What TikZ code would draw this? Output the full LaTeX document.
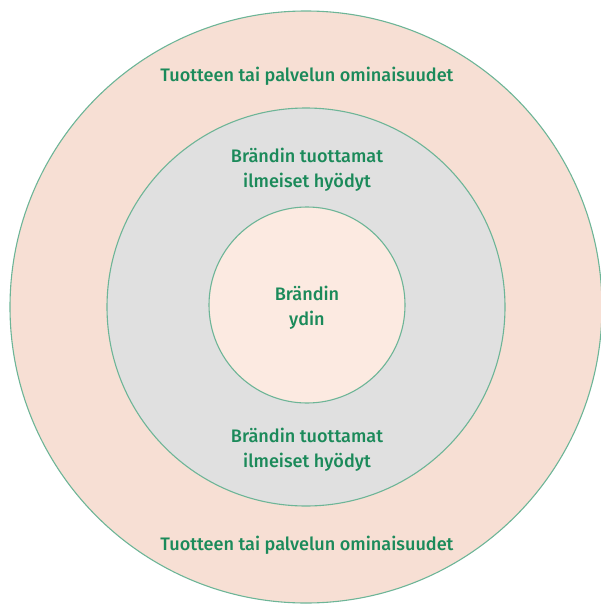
\documentclass[tikz,border=0pt]{standalone}
\usepackage{fontspec}
\setmainfont{Fira Sans}[UprightFont=* Medium]
\definecolor{ringline}{HTML}{6DB597}
\definecolor{labelgreen}{HTML}{1B8A5A}
\definecolor{outerfill}{HTML}{F7DFD4}
\definecolor{midfill}{HTML}{E0E0E0}
\definecolor{corefill}{HTML}{FCEAE1}
\tikzset{
  ring/.style={draw=ringline, line width=1.1pt, circle, inner sep=0pt},
  lbl/.style={text=labelgreen, font=\fontsize{18.1}{25}\selectfont, align=center}
}
\begin{document}
\begin{tikzpicture}[x=1pt,y=-1pt]
  \useasboundingbox (0,0) rectangle (601,605);
  \node[ring, fill=outerfill, minimum size=592pt] (outer) at (306,307) {};
  \node[ring, fill=midfill, minimum size=398pt] (mid) at (306,307) {};
  \node[ring, fill=corefill, minimum size=196pt] (core) at (307,305) {};
  \node[lbl] (top) at (307,76) {Tuotteen tai palvelun ominaisuudet};
  \node[lbl] (bottom) at (307,545) {Tuotteen tai palvelun ominaisuudet};
  \node[lbl] (benefitsup) at (307,170) {Brändin tuottamat\\ilmeiset hyödyt};
  \node[lbl] (benefitsdown) at (307,450) {Brändin tuottamat\\ilmeiset hyödyt};
  \node[lbl] (corelabel) at (307,308) {Brändin\\ydin};
\end{tikzpicture}
\end{document}
